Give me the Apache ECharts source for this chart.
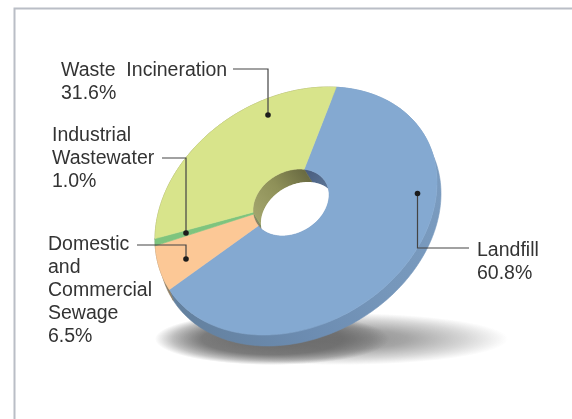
<!DOCTYPE html>
<html>
<head>
<meta charset="utf-8">
<style>html,body{margin:0;padding:0;background:#fff}#c{width:572px;height:419px}</style>
<script src="https://cdn.jsdelivr.net/npm/echarts@6/dist/echarts.min.js"></script>
</head>
<body>
<div id="c"></div>
<script>
// Sources of emissions, percent of total; listed clockwise from the top of the disc
const sources = ['Landfill', 'Domestic and Commercial Sewage', 'Industrial Wastewater', 'Waste Incineration'];
const shares = [60.8, 6.5, 1.0, 31.6];
const faceColors = ['#84A9D1', '#FCC896', '#7EC47E', '#D8E48B'];
const wallColors = ['#4F6B8E', '#8F7F66', '#6F8A58', '#8E9058'];
const labelLines = [
  ['Landfill', '60.8%'],
  ['Domestic', 'and', 'Commercial', 'Sewage', '6.5%'],
  ['Industrial', 'Wastewater', '1.0%'],
  ['Waste  Incineration', '31.6%']
];

// Tilted disc: outer rim ellipse, wedge apex, hole and extrusion depths
const rim = { cx: 296, cy: 211, halfW: 141, halfH: 124, skew: -4000 };
const apex = [290, 204];
const hole = { cx: 291, cy: 202.5, scale: 0.27 };
const rimDepth = [4, 11];
const wallDepth = [8, 13];
const startDeg = -69.8;

const l21 = rim.skew / rim.halfW;
const l22 = Math.sqrt(rim.halfH * rim.halfH - l21 * l21);
const toScreen = (u, v, k) => [rim.halfW * u * k, (l21 * u + l22 * v) * k];
const toDisc = (x, y) => { const u = x / rim.halfW; return [u, (y - l21 * u) / l22]; };
const apexDisc = toDisc(apex[0] - rim.cx, apex[1] - rim.cy);

// Point on the rim reached from the apex at a given angle on the disc
function rimPoint(a, off) {
  const dx = Math.cos(a), dy = Math.sin(a);
  const b = apexDisc[0] * dx + apexDisc[1] * dy;
  const r = -b + Math.sqrt(b * b - apexDisc[0] * apexDisc[0] - apexDisc[1] * apexDisc[1] + 1);
  const s = toScreen(apexDisc[0] + r * dx, apexDisc[1] + r * dy, 1);
  return [rim.cx + s[0] + (off ? off[0] : 0), rim.cy + s[1] + (off ? off[1] : 0)];
}
function holePoint(a, off) {
  const s = toScreen(Math.cos(a), Math.sin(a), hole.scale);
  return [hole.cx + s[0] + (off ? off[0] : 0), hole.cy + s[1] + (off ? off[1] : 0)];
}

// Angular span of each source
const total = shares.reduce((a, b) => a + b, 0);
const spans = [];
shares.reduce((from, v) => {
  const to = from + v / total * Math.PI * 2;
  spans.push([from, to]);
  return to;
}, startDeg * Math.PI / 180);

function arc(span, fn, off) {
  const n = Math.max(2, Math.ceil((span[1] - span[0]) / 0.02));
  const pts = [];
  for (let i = 0; i <= n; i++) pts.push(fn(span[0] + (span[1] - span[0]) * i / n, off));
  return pts;
}

// Opening seen through the hole: overlap of the top and bottom hole edges
function openingPolygon() {
  const c = [hole.cx + wallDepth[0] / 2, hole.cy + wallDepth[1] / 2];
  const reach = (d, centre) => {
    const p = toDisc((c[0] - centre[0]) / hole.scale, (c[1] - centre[1]) / hole.scale);
    const q = toDisc(d[0] / hole.scale, d[1] / hole.scale);
    const A = q[0] * q[0] + q[1] * q[1], B = p[0] * q[0] + p[1] * q[1], C = p[0] * p[0] + p[1] * p[1] - 1;
    return (-B + Math.sqrt(B * B - A * C)) / A;
  };
  const pts = [];
  for (let i = 0; i < 240; i++) {
    const t = i / 240 * Math.PI * 2, d = [Math.cos(t), Math.sin(t)];
    const r = Math.min(reach(d, [hole.cx, hole.cy]), reach(d, [hole.cx + wallDepth[0], hole.cy + wallDepth[1]]));
    pts.push([c[0] + r * d[0], c[1] + r * d[1]]);
  }
  return pts;
}

const linear = (x, y, x2, y2, stops) => ({
  type: 'linear', x, y, x2, y2, global: true,
  colorStops: stops.map((c, i) => ({ offset: i / (stops.length - 1), color: c }))
});
const rimSideFill = linear(440, 180, 190, 330, ['#7A9BBF', '#7697BB', '#6C8CB1', '#64819F']);
const wallFills = [
  linear(300, 170, 330, 195, ['#46597A', '#5F7A9C']),
  wallColors[1],
  wallColors[2],
  linear(255, 215, 310, 172, ['#A2A46C', '#8E9058', '#65663F'])
];

// Leader lines: label anchor, elbow and dot on the slice
const leaders = [
  [[469, 248], [417.5, 248], [417.5, 193.5]],
  [[137, 245], [186, 245], [186, 259]],
  [[162, 158], [186, 158], [186, 233]],
  [[233, 69], [268, 69], [268, 115]]
];
const labelAnchors = [[477, 251], [48, 245], [52, 136], [61, 71]];
const labelLineHeight = 23;

const polygonItem = (points, fill, stroke) => ({
  type: 'polygon', shape: { points },
  style: { fill, stroke: stroke || fill, lineWidth: stroke === 'none' ? 0 : 0.6 }
});
// Soft grey ellipse whose opacity falls away towards its edge
const softEllipse = (x, y, rx, ry, grey, stops) => ({
  type: 'circle', x, y, scaleX: rx / 100, scaleY: ry / 100,
  shape: { cx: 0, cy: 0, r: 100 },
  style: { fill: { type: 'radial', x: 0.5, y: 0.5, r: 0.5,
    colorStops: stops.map((s) => ({ offset: s[0], color: `rgba(${grey},${grey},${grey},${s[1]})` })) } }
});
const base = { type: 'custom', coordinateSystem: 'none', silent: true, animation: false, clip: false };
const indexData = sources.map((s, i) => ({ name: s, value: shares[i] }));

const option = {
  animation: false,
  graphic: [
    { type: 'polyline', z: 0, shape: { points: [[14.5, 419], [14.5, 8.5], [572, 8.5]] },
      style: { fill: 'none', stroke: '#BABEC6', lineWidth: 2 } }
  ],
  series: [
    Object.assign({}, base, {
      name: 'Ground shadow', z: 1, data: [1],
      renderItem: () => ({ type: 'group', children: [
        softEllipse(340, 339, 168, 26, 110, [[0, 0.8], [0.4, 0.62], [0.75, 0.28], [1, 0]]),
        softEllipse(272, 339, 117, 26, 105, [[0, 0.95], [0.6, 0.85], [0.85, 0.42], [1, 0]])
      ] })
    }),
    Object.assign({}, base, {
      name: 'Rim side', z: 2, data: indexData,
      renderItem: (p) => {
        const top = arc(spans[p.dataIndex], rimPoint);
        const low = arc(spans[p.dataIndex], rimPoint, rimDepth).reverse();
        return polygonItem(top.concat(low), p.dataIndex === 0 ? rimSideFill : wallColors[p.dataIndex]);
      }
    }),
    Object.assign({}, base, {
      name: 'Hole wall', z: 3, data: indexData,
      renderItem: (p) => {
        const top = arc(spans[p.dataIndex], holePoint);
        const low = arc(spans[p.dataIndex], holePoint, wallDepth).reverse();
        return polygonItem(top.concat(low), wallFills[p.dataIndex]);
      }
    }),
    Object.assign({}, base, {
      name: 'Hole', z: 4, data: [1],
      renderItem: () => polygonItem(openingPolygon(), '#FFFFFF', 'none')
    }),
    Object.assign({}, base, {
      name: 'Emission sources', z: 5, data: indexData,
      renderItem: (p) => {
        const outer = arc(spans[p.dataIndex], rimPoint);
        const inner = arc(spans[p.dataIndex], holePoint).reverse();
        return polygonItem(outer.concat(inner), faceColors[p.dataIndex]);
      }
    }),
    Object.assign({}, base, {
      name: 'Leaders', z: 6, data: indexData,
      renderItem: (p) => {
        const l = leaders[p.dataIndex], end = l[2];
        return { type: 'group', children: [
          { type: 'polyline', shape: { points: l }, style: { fill: 'none', stroke: '#444', lineWidth: 1.2 } },
          { type: 'circle', shape: { cx: end[0], cy: end[1], r: 2.8 }, style: { fill: '#1c1c1c' } }
        ] };
      }
    }),
    Object.assign({}, base, {
      name: 'Labels', z: 7, data: indexData,
      renderItem: (p) => ({
        type: 'group',
        children: labelLines[p.dataIndex].map((line, i) => ({
          type: 'text',
          style: {
            text: line,
            x: labelAnchors[p.dataIndex][0],
            y: labelAnchors[p.dataIndex][1] + i * labelLineHeight,
            verticalAlign: 'middle',
            font: '19.5px "Liberation Sans", sans-serif',
            fill: '#333333'
          }
        }))
      })
    })
  ]
};
echarts.init(document.getElementById('c'), null, { renderer: 'canvas' }).setOption(option);
</script>
</body>
</html>
